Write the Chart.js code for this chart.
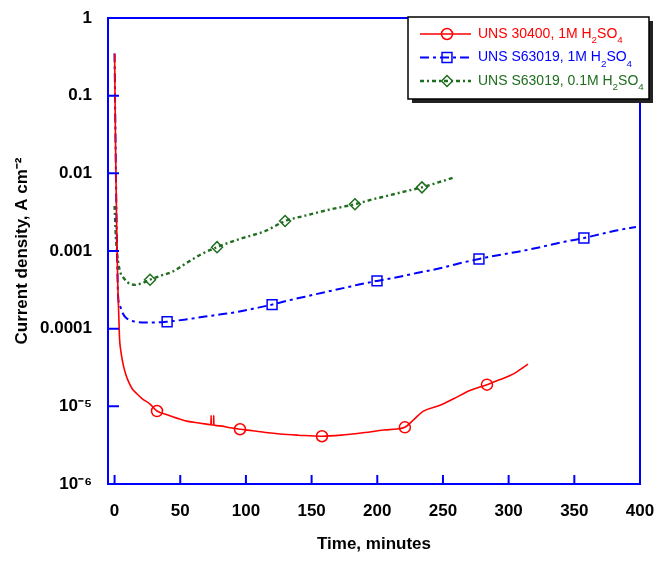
<!DOCTYPE html>
<html>
<head>
<meta charset="utf-8">
<script src="https://cdn.jsdelivr.net/npm/chart.js@4.4.0/dist/chart.umd.min.js"></script>
<style>
  html, body { margin: 0; padding: 0; background: #fff; }
</style>
</head>
<body>
<canvas id="chart-corriente" width="667" height="562"></canvas>
<script>
// Axis ticks
const timeTicks = [0, 50, 100, 150, 200, 250, 300, 350, 400];
const currentTicks = [1e-6, 1e-5, 1e-4, 1e-3, 1e-2, 1e-1, 1];
const currentTickLabels = ['10⁻⁶', '10⁻⁵', '0.0001', '0.001', '0.01', '0.1', '1'];

const seriesNames = ['UNS 30400, 1M H₂SO₄', 'UNS S63019, 1M H₂SO₄', 'UNS S63019, 0.1M H₂SO₄'];

// UNS 30400 in 1M H2SO4
const ss304Time = [0, 0.8, 1.6, 2.4, 3.2, 3.8, 4.6, 5.7, 7, 8.8, 10.8, 13.3, 17, 20.9, 27, 32.3, 40, 48, 55.9, 64, 70,
  73.4, 73.5, 73.6, 75.4, 75.5, 75.6, 80, 88, 95.5, 105, 115, 125.9, 140, 157.9, 175, 190.6, 205, 215, 221,
  228, 234.8, 247.7, 258, 270.5, 283.5, 293, 303.3, 314.7];
const ss304Current = [0.35, 0.02, 0.002, 4e-4, 1.5e-4, 7.4e-5, 5.4e-5, 4.1e-5, 3.2e-5, 2.5e-5, 2.05e-5, 1.7e-5, 1.45e-5,
  1.26e-5, 1.07e-5, 8.7e-6, 7.8e-6, 7.0e-6, 6.4e-6, 6.1e-6, 5.9e-6,
  5.8e-6, 7.6e-6, 5.8e-6, 5.75e-6, 7.6e-6, 5.75e-6, 5.6e-6, 5.3e-6, 5.07e-6, 4.85e-6, 4.6e-6, 4.4e-6, 4.25e-6,
  4.12e-6, 4.3e-6, 4.6e-6, 4.95e-6, 5.1e-6, 5.37e-6,
  6.8e-6, 8.6e-6, 1.03e-5, 1.25e-5, 1.6e-5, 1.9e-5, 2.2e-5, 2.6e-5, 3.5e-5];
const ss304Marks = [32.3, 95.5, 157.9, 221, 283.5];

// UNS S63019 in 1M H2SO4
const s63019Time = [0, 0.8, 1.6, 2.7, 4, 5.7, 8, 11, 15.6, 23.2, 30, 40, 55, 68.9, 80, 94, 107, 119.9, 132, 145,
  160, 175, 186, 199.8, 215, 230, 246, 262, 277.4, 293, 310, 325, 341, 357.3, 370, 383, 396.9];
const s63019Current = [0.35, 0.02, 0.002, 2.6e-4, 2e-4, 1.65e-4, 1.42e-4, 1.3e-4, 1.23e-4, 1.2e-4, 1.2e-4, 1.23e-4,
  1.32e-4, 1.43e-4, 1.52e-4, 1.65e-4, 1.83e-4, 2.04e-4, 2.3e-4, 2.58e-4, 2.95e-4, 3.35e-4, 3.7e-4, 4.12e-4,
  4.6e-4, 5.2e-4, 5.9e-4, 6.9e-4, 7.9e-4, 8.9e-4, 1.0e-3, 1.13e-3, 1.3e-3, 1.47e-3, 1.65e-3, 1.85e-3, 2.04e-3];
const s63019Marks = [40, 119.9, 199.8, 277.4, 357.3];

// UNS S63019 in 0.1M H2SO4
const s63019DilTime = [0, 1, 2, 3, 4.2, 6.5, 9.5, 12.5, 15.6, 20, 27, 35, 43.8, 55.9, 66, 78, 88, 99.3, 114.5,
  129.8, 145, 160, 170, 183, 196, 209, 222, 234, 247, 259];
const s63019DilCurrent = [0.0038, 0.0015, 9e-4, 6.8e-4, 5.4e-4, 4.6e-4, 4.0e-4, 3.75e-4, 3.66e-4, 3.8e-4, 4.27e-4,
  4.8e-4, 5.4e-4, 7.2e-4, 9.1e-4, 1.12e-3, 1.3e-3, 1.5e-3, 1.8e-3, 2.43e-3, 2.85e-3, 3.3e-3, 3.6e-3, 4.0e-3,
  4.6e-3, 5.2e-3, 5.9e-3, 6.6e-3, 7.7e-3, 8.9e-3];
const s63019DilMarks = [27, 78, 129.8, 183, 234];

const axisBlue = '#0000ff';
const fontFamily = "'Liberation Sans', Arial, sans-serif";
// marker radius per point style
const markerSize = { circle: 5.5, rect: 7, rectRot: 5.5 };

function puntos(times, values) {
    return times.map((t, i) => ({ x: t, y: values[i] }));
}

function radioMarcador(marks, style) {
    return ctx => (ctx.raw && marks.includes(ctx.raw.x)) ? markerSize[style] : 0;
}

// Frame around the plot area with inward tick marks
const marcoEjes = {
    id: 'marcoEjes',
    afterDatasetsDraw(chart) {
        const { ctx, chartArea: a, scales: { x, y } } = chart;
        ctx.save();
        ctx.strokeStyle = axisBlue;
        ctx.lineWidth = 2;
        ctx.strokeRect(a.left, a.top, a.right - a.left, a.bottom - a.top);
        ctx.beginPath();
        timeTicks.forEach(t => {
            const px = x.getPixelForValue(t);
            ctx.moveTo(px, a.bottom);
            ctx.lineTo(px, a.bottom - 9);
        });
        currentTicks.forEach(v => {
            const py = y.getPixelForValue(v);
            ctx.moveTo(a.left, py);
            ctx.lineTo(a.left + 11, py);
        });
        ctx.stroke();
        ctx.restore();
    }
};

// Writes text, drawing subscript digits smaller and lower
function textoConSubindices(ctx, text, x, y, size) {
    const subs = '₀₁₂₃₄₅₆₇₈₉';
    let cx = x;
    let run = '';
    let runSub = false;
    const flush = () => {
        if (!run) return;
        ctx.font = runSub ? `${size * 0.7}px ${fontFamily}` : `${size}px ${fontFamily}`;
        ctx.fillText(run, cx, runSub ? y + size * 0.45 : y);
        cx += ctx.measureText(run).width;
        run = '';
    };
    for (const ch of text) {
        const idx = subs.indexOf(ch);
        const isSub = idx >= 0;
        if (isSub !== runSub) { flush(); runSub = isSub; }
        run += isSub ? String(idx) : ch;
    }
    flush();
}

// Boxed legend with drop shadow
const leyenda = {
    id: 'leyenda',
    afterDraw(chart) {
        const ctx = chart.ctx;
        const bx = 408, by = 17, bw = 241, bh = 82;
        ctx.save();
        ctx.fillStyle = '#222';
        ctx.fillRect(bx + 4, by + 4, bw, bh);
        ctx.fillStyle = '#fff';
        ctx.fillRect(bx, by, bw, bh);
        ctx.strokeStyle = '#000';
        ctx.lineWidth = 1.5;
        ctx.strokeRect(bx, by, bw, bh);
        chart.data.datasets.forEach((ds, i) => {
            const yy = by + 17 + i * 23.5;
            ctx.strokeStyle = ds.borderColor;
            ctx.lineWidth = ds.borderWidth;
            ctx.setLineDash(ds.borderDash || []);
            ctx.beginPath();
            ctx.moveTo(420, yy);
            ctx.lineTo(471, yy);
            ctx.stroke();
            ctx.setLineDash([]);
            ctx.fillStyle = 'rgba(0,0,0,0)';
            ctx.lineWidth = 1.5;
            Chart.helpers.drawPoint(ctx, {
                pointStyle: ds.pointStyle,
                radius: markerSize[ds.pointStyle],
                borderWidth: 1.5,
                rotation: 0
            }, 447, yy);
            ctx.fillStyle = ds.borderColor;
            ctx.textBaseline = 'middle';
            ctx.textAlign = 'left';
            textoConSubindices(ctx, ds.label, 478, yy, 14);
        });
        ctx.restore();
    }
};

const ctx = document.getElementById('chart-corriente').getContext('2d');
new Chart(ctx, {
    type: 'line',
    data: {
        datasets: [{
            label: seriesNames[0],
            data: puntos(ss304Time, ss304Current),
            borderColor: '#ff0000',
            borderWidth: 1.6,
            pointStyle: 'circle',
            pointRadius: radioMarcador(ss304Marks, 'circle'),
            pointBorderWidth: 1.5,
            pointBorderColor: '#ff0000',
            pointBackgroundColor: 'rgba(0,0,0,0)',
            cubicInterpolationMode: 'monotone'
        }, {
            label: seriesNames[1],
            data: puntos(s63019Time, s63019Current),
            borderColor: '#0000ff',
            borderWidth: 2,
            borderDash: [9, 4, 3, 4],
            pointStyle: 'rect',
            pointRadius: radioMarcador(s63019Marks, 'rect'),
            pointBorderWidth: 1.5,
            pointBorderColor: '#0000ff',
            pointBackgroundColor: 'rgba(0,0,0,0)',
            cubicInterpolationMode: 'monotone'
        }, {
            label: seriesNames[2],
            data: puntos(s63019DilTime, s63019DilCurrent),
            borderColor: '#1f6e1f',
            borderWidth: 2.4,
            borderDash: [4, 3, 2, 3],
            pointStyle: 'rectRot',
            pointRadius: radioMarcador(s63019DilMarks, 'rectRot'),
            pointBorderWidth: 1.5,
            pointBorderColor: '#1f6e1f',
            pointBackgroundColor: 'rgba(0,0,0,0)',
            cubicInterpolationMode: 'monotone'
        }]
    },
    options: {
        responsive: false,
        animation: false,
        layout: { padding: { top: 18, right: 27, left: 0, bottom: 0 } },
        plugins: {
            legend: { display: false },
            tooltip: { enabled: false }
        },
        scales: {
            x: {
                type: 'linear',
                min: -5,
                max: 400,
                afterBuildTicks: s => { s.ticks = timeTicks.map(v => ({ value: v })); },
                // fixed band height; label overhang is covered by the layout padding
                afterFit: s => { s.height = 78; s.paddingLeft = 0; s.paddingRight = 0; },
                grid: { display: false, drawTicks: false },
                border: { display: false },
                ticks: {
                    color: '#000',
                    padding: 17,
                    maxRotation: 0,
                    font: { family: fontFamily, size: 17, weight: 'bold' }
                },
                title: {
                    display: true,
                    text: 'Time, minutes',
                    color: '#000',
                    padding: { top: 0, bottom: 7 },
                    font: { family: fontFamily, size: 17, weight: 'bold' }
                }
            },
            y: {
                type: 'logarithmic',
                min: 1e-6,
                max: 1,
                afterBuildTicks: s => { s.ticks = currentTicks.map(v => ({ value: v })); },
                afterFit: s => { s.width = 108; s.paddingTop = 0; s.paddingBottom = 0; },
                grid: { display: false, drawTicks: false },
                border: { display: false },
                ticks: {
                    color: '#000',
                    padding: 16,
                    font: { family: fontFamily, size: 17, weight: 'bold' },
                    callback: v => currentTickLabels[currentTicks.indexOf(v)]
                },
                title: {
                    display: true,
                    text: 'Current density, A cm⁻²',
                    color: '#000',
                    padding: { top: 12, bottom: 0 },
                    font: { family: fontFamily, size: 17, weight: 'bold' }
                }
            }
        }
    },
    plugins: [marcoEjes, leyenda]
});
</script>
</body>
</html>
